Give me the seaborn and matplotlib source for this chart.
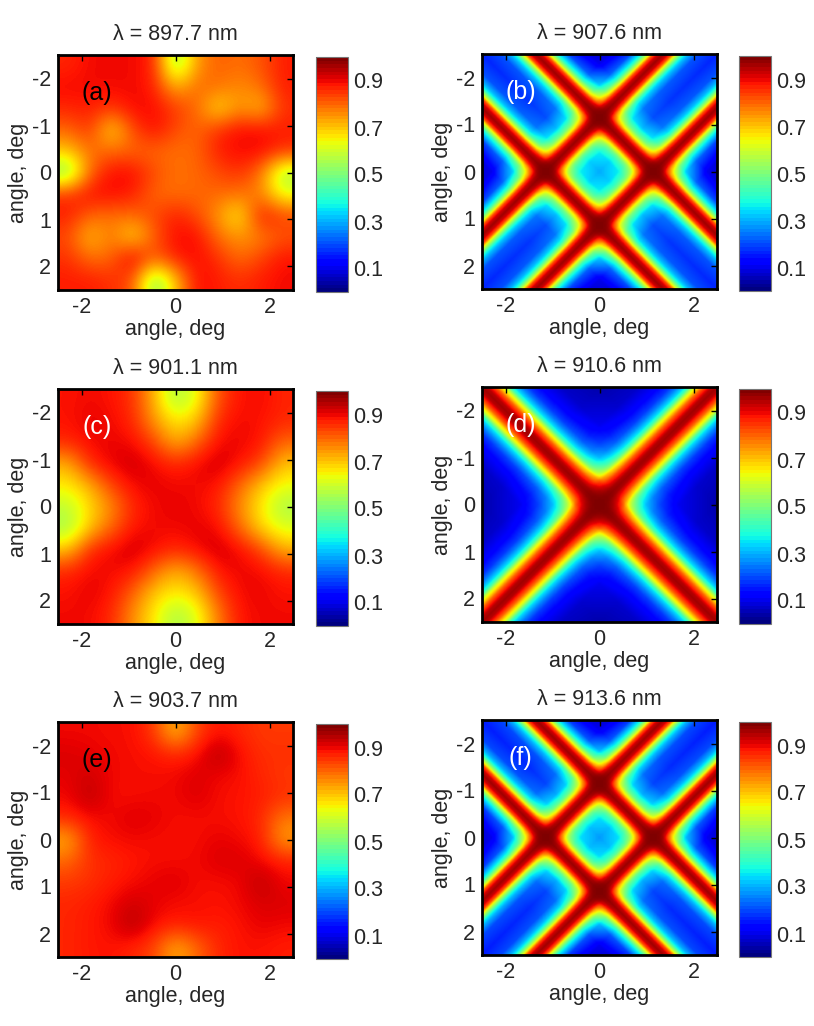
import numpy as np
import matplotlib
matplotlib.use("Agg")
import matplotlib.pyplot as plt
import matplotlib.cm as cm
import matplotlib.colors as mcolors
import seaborn as sns

# angular grid of the measured maps (deg), 0.5 deg step
grid_angles = [-2.5, -2.0, -1.5, -1.0, -0.5, 0.0, 0.5, 1.0, 1.5, 2.0, 2.5]

# measured maps, rows: y from -2.5 (top) to 2.5 (bottom)
map_a = [
    [0.87, 0.90, 0.90, 0.90, 0.88, 0.52, 0.75, 0.81, 0.79, 0.82, 0.88],
    [0.90, 0.90, 0.90, 0.90, 0.88, 0.72, 0.80, 0.79, 0.76, 0.79, 0.88],
    [0.87, 0.88, 0.85, 0.90, 0.90, 0.85, 0.80, 0.66, 0.76, 0.70, 0.86],
    [0.80, 0.86, 0.66, 0.83, 0.90, 0.83, 0.80, 0.86, 0.90, 0.90, 0.88],
    [0.70, 0.79, 0.80, 0.80, 0.80, 0.79, 0.80, 0.88, 0.90, 0.90, 0.86],
    [0.50, 0.80, 0.90, 0.90, 0.83, 0.79, 0.80, 0.83, 0.86, 0.79, 0.55],
    [0.86, 0.90, 0.90, 0.88, 0.80, 0.79, 0.80, 0.80, 0.79, 0.77, 0.62],
    [0.88, 0.80, 0.79, 0.80, 0.83, 0.88, 0.83, 0.75, 0.64, 0.90, 0.84],
    [0.83, 0.70, 0.79, 0.66, 0.81, 0.90, 0.90, 0.79, 0.75, 0.77, 0.82],
    [0.86, 0.79, 0.80, 0.93, 0.81, 0.88, 0.90, 0.86, 0.79, 0.84, 0.89],
    [0.88, 0.88, 0.86, 0.83, 0.50, 0.70, 0.90, 0.88, 0.86, 0.88, 0.90],
]
map_c = [
    [0.89, 0.90, 0.89, 0.86, 0.72, 0.55, 0.63, 0.83, 0.89, 0.90, 0.87],
    [0.89, 0.91, 0.90, 0.87, 0.75, 0.66, 0.70, 0.87, 0.90, 0.89, 0.87],
    [0.87, 0.90, 0.905, 0.90, 0.84, 0.72, 0.80, 0.90, 0.905, 0.89, 0.80],
    [0.72, 0.87, 0.91, 0.93, 0.90, 0.87, 0.90, 0.93, 0.89, 0.84, 0.70],
    [0.66, 0.72, 0.84, 0.90, 0.91, 0.90, 0.90, 0.89, 0.80, 0.70, 0.64],
    [0.58, 0.68, 0.76, 0.87, 0.90, 0.91, 0.90, 0.87, 0.76, 0.66, 0.55],
    [0.55, 0.70, 0.80, 0.89, 0.90, 0.90, 0.91, 0.90, 0.80, 0.68, 0.62],
    [0.70, 0.87, 0.90, 0.93, 0.90, 0.87, 0.90, 0.93, 0.90, 0.84, 0.72],
    [0.87, 0.90, 0.90, 0.89, 0.80, 0.72, 0.78, 0.89, 0.905, 0.90, 0.87],
    [0.89, 0.91, 0.89, 0.81, 0.70, 0.66, 0.70, 0.84, 0.90, 0.905, 0.89],
    [0.90, 0.90, 0.87, 0.76, 0.66, 0.55, 0.62, 0.78, 0.89, 0.90, 0.90],
]
map_e = [
    [0.90, 0.90, 0.895, 0.895, 0.85, 0.70, 0.84, 0.89, 0.87, 0.85, 0.85],
    [0.92, 0.91, 0.90, 0.895, 0.89, 0.87, 0.89, 0.96, 0.895, 0.86, 0.86],
    [0.91, 0.93, 0.90, 0.895, 0.895, 0.90, 0.92, 0.90, 0.895, 0.87, 0.85],
    [0.90, 0.95, 0.895, 0.895, 0.90, 0.90, 0.92, 0.895, 0.89, 0.88, 0.86],
    [0.87, 0.895, 0.90, 0.92, 0.91, 0.895, 0.895, 0.895, 0.89, 0.87, 0.78],
    [0.72, 0.88, 0.895, 0.90, 0.895, 0.895, 0.895, 0.91, 0.90, 0.88, 0.74],
    [0.80, 0.86, 0.87, 0.885, 0.895, 0.895, 0.90, 0.92, 0.92, 0.90, 0.88],
    [0.85, 0.86, 0.88, 0.895, 0.91, 0.92, 0.895, 0.895, 0.90, 0.95, 0.90],
    [0.87, 0.88, 0.90, 0.93, 0.91, 0.895, 0.895, 0.89, 0.90, 0.92, 0.92],
    [0.87, 0.885, 0.90, 0.96, 0.895, 0.88, 0.89, 0.88, 0.89, 0.91, 0.90],
    [0.87, 0.885, 0.89, 0.87, 0.84, 0.72, 0.80, 0.87, 0.89, 0.89, 0.88],
]

# ridge profiles read along cuts across the bands (rotated coords u=x+y, v=x-y)
ridge_pos = [0.0, 0.4, 0.6, 0.7, 0.85, 0.95, 1.05, 1.15, 1.25, 1.35, 1.45, 1.6, 1.85, 2.3, 3.0, 5.0]
ridge_b = [0.16, 0.20, 0.30, 0.38, 0.60, 0.82, 0.93, 0.97, 0.93, 0.82, 0.60, 0.38, 0.18, 0.05, 0.02, 0.0]
ridge_f = [0.15, 0.19, 0.29, 0.37, 0.60, 0.82, 0.93, 0.97, 0.93, 0.82, 0.60, 0.37, 0.17, 0.05, 0.02, 0.0]
ridge_d_pos = [0.0, 0.1, 0.2, 0.3, 0.4, 0.48, 0.6, 0.7, 0.85, 1.0, 1.3, 1.7, 2.5, 5.0]
ridge_d = [0.97, 0.95, 0.88, 0.80, 0.68, 0.60, 0.42, 0.33, 0.24, 0.17, 0.10, 0.05, 0.02, 0.0]

titles = ["λ = 897.7 nm", "λ = 907.6 nm", "λ = 901.1 nm",
          "λ = 910.6 nm", "λ = 903.7 nm", "λ = 913.6 nm"]
letters = ["(a)", "(b)", "(c)", "(d)", "(e)", "(f)"]
letter_colors = ["black", "white", "white", "white", "black", "white"]
cbar_ticks = [0.1, 0.3, 0.5, 0.7, 0.9]


def ridge_map(pos, prof, n=301):
    ang = np.linspace(-2.5, 2.5, n)
    xx, yy = np.meshgrid(ang, ang)
    gu = np.interp(np.abs(xx + yy), pos, prof)
    gv = np.interp(np.abs(xx - yy), pos, prof)
    return 1 - (1 - gu) * (1 - gv)


sns.set_style("white")
plt.rcParams["font.family"] = ["Liberation Sans", "DejaVu Sans"]
plt.rcParams["axes.unicode_minus"] = False
FS = 15.5

fields = [
    (np.array(map_a), "bicubic"),
    (ridge_map(ridge_pos, ridge_b), "bilinear"),
    (np.array(map_c), "bicubic"),
    (ridge_map(ridge_d_pos, ridge_d), "bilinear"),
    (np.array(map_e), "bicubic"),
    (ridge_map(ridge_pos, ridge_f), "bilinear"),
]

W, H = 814, 1026
fig = plt.figure(figsize=(W / 100, H / 100), dpi=100)
jet = plt.get_cmap("jet")
jet64 = plt.get_cmap("jet", 64)

ax_left = [58, 482]
cb_left = [316, 739]
ax_top = [[55, 54], [389, 387], [722, 720]]
size = 235

for i, (data, interp) in enumerate(fields):
    row, col = divmod(i, 2)
    left, top = ax_left[col], ax_top[row][col]
    ax = fig.add_axes([left / W, 1 - (top + size) / H, size / W, size / H])
    ax.imshow(data, cmap=jet, vmin=0, vmax=1, extent=(-2.5, 2.5, 2.5, -2.5),
              interpolation=interp, aspect="auto")
    ax.set_xlim(-2.5, 2.5)
    ax.set_ylim(2.5, -2.5)
    ax.set_xticks([-2, 0, 2])
    ax.set_yticks([-2, -1, 0, 1, 2])
    ax.tick_params(direction="in", length=4, width=1, top=True, right=True,
                   labelsize=FS, pad=5, color="black")
    for s in ax.spines.values():
        s.set_linewidth(2)
        s.set_color("black")
    ax.set_xlabel("angle, deg", fontsize=FS, labelpad=1)
    ax.set_ylabel("angle, deg", fontsize=FS, labelpad=2)
    ax.set_title(titles[i], fontsize=FS, pad=11)
    ax.text(0.165, 0.84, letters[i], transform=ax.transAxes, fontsize=18,
            color=letter_colors[i], ha="center", va="center")

    cax = fig.add_axes([cb_left[col] / W, 1 - (top + 2 + size) / H, 32 / W, size / H])
    sm = cm.ScalarMappable(norm=mcolors.Normalize(0, 1), cmap=jet64)
    cb = fig.colorbar(sm, cax=cax, ticks=cbar_ticks)
    cb.ax.set_yticklabels([f"{t:.1f}" for t in cbar_ticks])
    cb.ax.tick_params(direction="in", length=3, width=0.8, left=True, right=True,
                      labelsize=FS, pad=4, color="#555555")
    cb.outline.set_edgecolor("#777777")
    cb.outline.set_linewidth(0.8)

fig.savefig("out.png", dpi=100)
